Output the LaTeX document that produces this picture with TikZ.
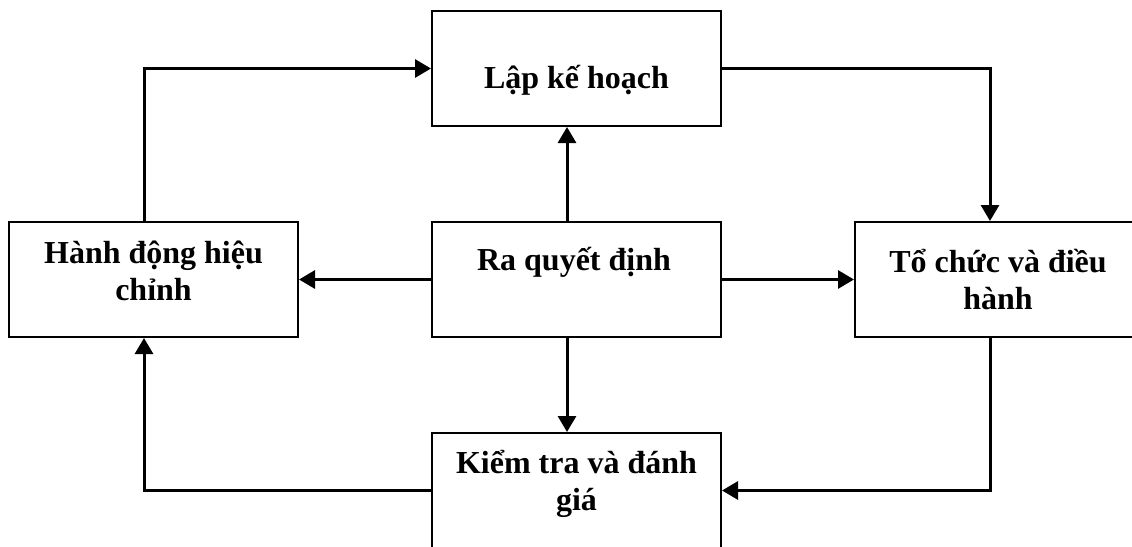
\documentclass[tikz,border=0pt]{standalone}
\usepackage{fontspec}
\setmainfont{Liberation Serif}
\usetikzlibrary{arrows.meta}
\tikzset{
  box/.style={draw=black, line width=2pt, fill=white, minimum width=289pt, minimum height=115pt, inner sep=0pt},
  lbl/.style={font=\bfseries\fontsize{32}{37}\selectfont, align=center, inner sep=0pt, anchor=base},
  arr/.style={line width=3pt, -{Triangle[length=16pt,width=18pt]}}
}
\begin{document}
\begin{tikzpicture}[x=1pt,y=-1pt]
\useasboundingbox (0,0) rectangle (1132,546);
\node[box] (plan) at (576.5,68.5) {};
\node[box] (hanh) at (153.5,279.5) {};
\node[box] (ra)   at (576.5,279.5) {};
\node[box] (to)   at (999.5,279.5) {};
\node[box] (kiem) at (576.5,490.5) {};
\node[lbl] (tplan) at (576.5,88) {Lập kế hoạch};
\node[lbl] (thanh) at (153.5,300) {Hành động hiệu\\chỉnh};
\node[lbl] (tra)   at (574,270) {Ra quyết định};
\node[lbl] (tto)   at (998,309) {Tổ chức và điều\\hành};
\node[lbl] (tkiem) at (576.5,510) {Kiểm tra và đánh\\giá};
\draw[arr] ([xshift=-9.5pt]hanh.north) |- (plan.west);
\draw[arr] (plan.east) -| ([xshift=-9.5pt]to.north);
\draw[arr] ([xshift=-9.5pt]to.south) |- (kiem.east);
\draw[arr] (kiem.west) -| ([xshift=-9.5pt]hanh.south);
\draw[arr] ([xshift=-9.5pt]ra.north) -- ([xshift=-9.5pt]plan.south);
\draw[arr] ([xshift=-9.5pt]ra.south) -- ([xshift=-9.5pt]kiem.north);
\draw[arr] (ra.west) -- (hanh.east);
\draw[arr] (ra.east) -- (to.west);
\end{tikzpicture}
\end{document}
